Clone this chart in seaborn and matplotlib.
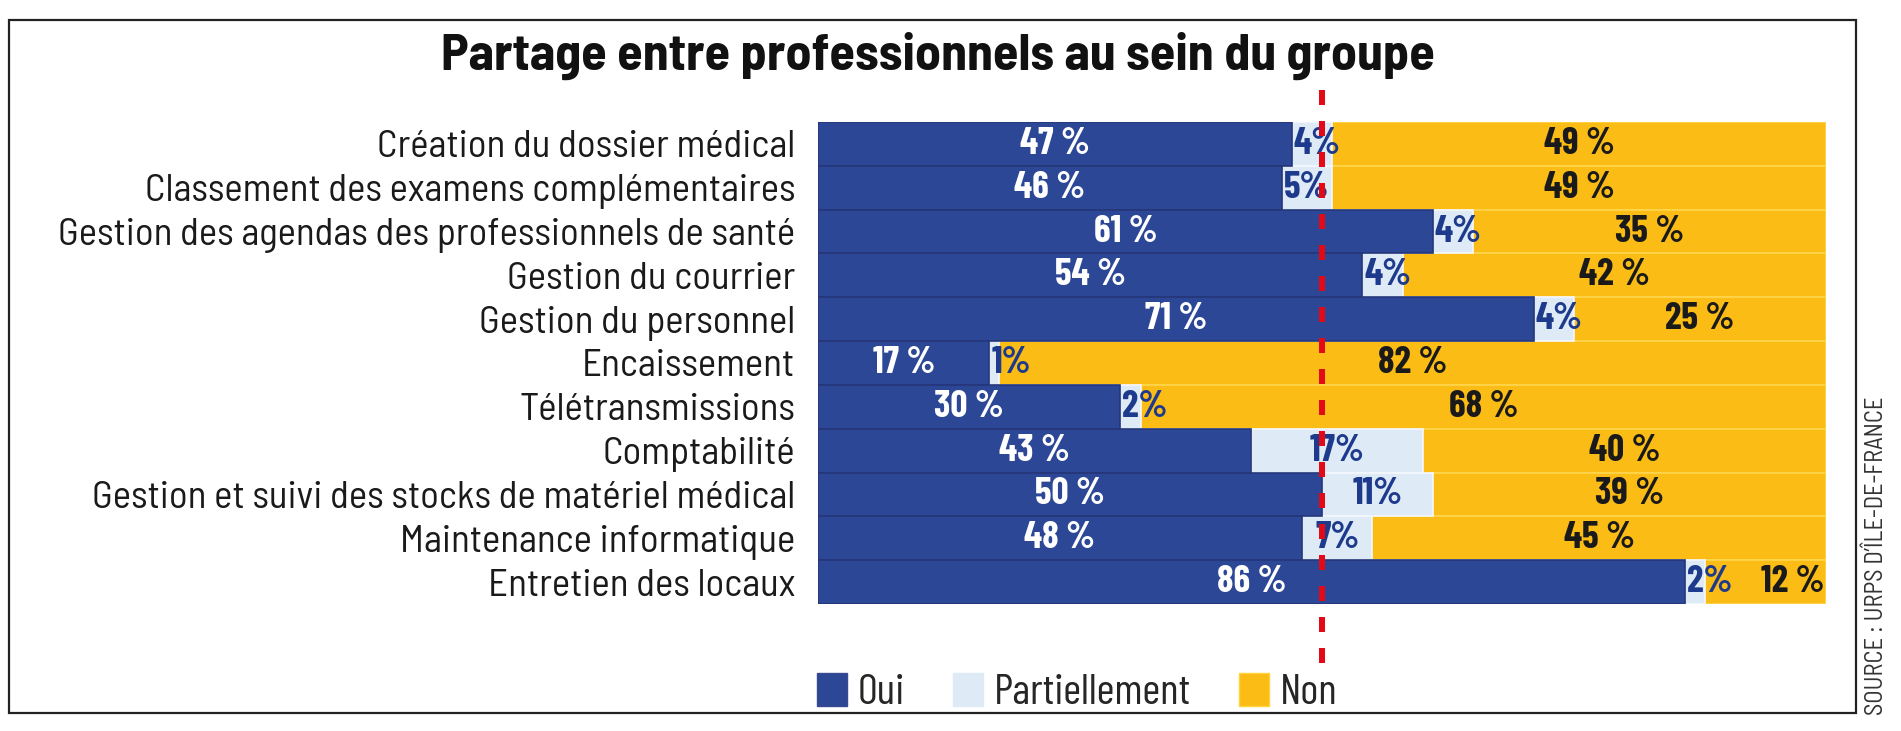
import matplotlib
matplotlib.use("Agg")
import matplotlib.pyplot as plt
from matplotlib.patches import Patch, Rectangle
import seaborn as sns
import pandas as pd

categories = [
    "Création du dossier médical",
    "Classement des examens complémentaires",
    "Gestion des agendas des professionnels de santé",
    "Gestion du courrier",
    "Gestion du personnel",
    "Encaissement",
    "Télétransmissions",
    "Comptabilité",
    "Gestion et suivi des stocks de matériel médical",
    "Maintenance informatique",
    "Entretien des locaux",
]
oui = [47, 46, 61, 54, 71, 17, 30, 43, 50, 48, 86]
partiellement = [4, 5, 4, 4, 4, 1, 2, 17, 11, 7, 2]
non = [49, 49, 35, 42, 25, 82, 68, 40, 39, 45, 12]
series_names = ["Oui", "Partiellement", "Non"]
title = "Partage entre professionnels au sein du groupe"
source = "SOURCE : URPS D’ÎLE-DE-FRANCE"
reference_line = 50

C_OUI = "#2c4796"
C_PART = "#deebf7"
C_NON = "#fbbc16"
C_RED = "#e30a17"

FONT = "Barlow Semi Condensed"
FONT_C = "Barlow Condensed"

sns.set_theme(style="white")
plt.rcParams["font.family"] = [FONT, "DejaVu Sans"]

W, H = 1901, 731
fig = plt.figure(figsize=(W / 100, H / 100), dpi=100)
fig.patch.set_facecolor("white")
renderer = fig.canvas.get_renderer()


def fit(text, target_px, **kw):
    t = fig.text(0, 0, text, fontsize=10, **kw)
    w = t.get_window_extent(renderer).width
    t.remove()
    return 10 * target_px / w


def px2x(px):
    return px / W


def px2y(py):
    return 1 - py / H


ax_left, ax_right, ax_top, ax_bottom = 818, 1826, 122, 604
ax = fig.add_axes([px2x(ax_left), px2y(ax_bottom), px2x(ax_right - ax_left), (ax_bottom - ax_top) / H])

df = pd.DataFrame({"cat": categories, "oui": oui, "part": partiellement, "non": non})
df["c2"] = df["oui"] + df["part"]
df["c3"] = df["c2"] + df["non"]

sns.barplot(data=df, x="c3", y="cat", order=categories, orient="h", color=C_NON,
            saturation=1, width=1.0, edgecolor="#ffd54d", linewidth=1.2, errorbar=None, ax=ax)
sns.barplot(data=df, x="c2", y="cat", order=categories, orient="h", color=C_PART,
            saturation=1, width=1.0, edgecolor="#f4f8fc", linewidth=1.2, errorbar=None, ax=ax)
sns.barplot(data=df, x="oui", y="cat", order=categories, orient="h", color=C_OUI,
            saturation=1, width=1.0, edgecolor="#25377a", linewidth=1.2, errorbar=None, ax=ax)

ax.set_xlim(0, 100)
ax.set_ylim(len(categories) - 0.5, -0.5)
ax.set_xlabel("")
ax.set_ylabel("")
ax.set_xticks([])
for s in ax.spines.values():
    s.set_visible(False)

lab_size = fit(max(categories, key=len), 740)
ax.tick_params(axis="y", length=0, pad=23 * 0.72, labelsize=lab_size, labelcolor="#1a1a1a")

pkw = dict(fontfamily=[FONT_C, "DejaVu Sans"], fontweight="bold")
pct_size = fit("47 %", 70, **pkw)
for i, (o, p, n) in enumerate(zip(oui, partiellement, non)):
    ax.text(o / 2, i, f"{o} %", ha="center", va="center", color="white",
            fontsize=pct_size, zorder=4, **pkw)
    if p >= 5:
        ax.text(o + p / 2, i, f"{p}%", ha="center", va="center", color="#1d3a8c",
                fontsize=pct_size, zorder=4, **pkw)
    else:
        ax.text(o + 0.2, i, f"{p}%", ha="left", va="center", color="#1d3a8c",
                fontsize=pct_size, zorder=4, **pkw)
    if n >= 15:
        ax.text(o + p + n / 2, i, f"{n} %", ha="center", va="center", color="#1a1a1a",
                fontsize=pct_size, zorder=4, **pkw)
    else:
        ax.text(o + p + n - 0.2, i, f"{n} %", ha="right", va="center", color="#1a1a1a",
                fontsize=pct_size, zorder=4, **pkw)

# reference dashed line
ax_h = ax_bottom - ax_top
lw_pt = 6 * 0.72
ax.axvline(reference_line, ymin=-(663 - ax_bottom) / ax_h, ymax=1 + (ax_top - 77) / ax_h,
           color=C_RED, lw=lw_pt, linestyle=(0, (15 * 0.72 / lw_pt, 16 * 0.72 / lw_pt)),
           clip_on=False, zorder=6)

# title
t_size = fit(title, 994, fontweight="bold")
fig.text(px2x(938), px2y(70), title, ha="center", va="baseline", fontsize=t_size,
         fontweight="bold", color="#111111")

# legend
lkw = dict(fontfamily=[FONT_C, "DejaVu Sans"], fontweight="normal")
leg_size = fit("Partiellement", 198, **lkw)
handles = [Patch(facecolor=C_OUI, edgecolor="#3a4a90"),
           Patch(facecolor=C_PART, edgecolor=C_PART),
           Patch(facecolor=C_NON, edgecolor="#ffd43a")]
fpx = leg_size / 0.72
fig.legend(handles, series_names, loc="center", bbox_to_anchor=(px2x(1077), px2y(693)),
           ncol=3, frameon=False, handlelength=30 / fpx, handleheight=34 / fpx,
           handletextpad=11 / fpx, columnspacing=48 / fpx, borderpad=0, borderaxespad=0,
           prop={"family": [FONT_C, "DejaVu Sans"], "weight": "normal", "size": leg_size})

# source
skw = dict(fontfamily=[FONT, "DejaVu Sans"])
s_size = fit(source, 318, **skw)
fig.text(px2x(1876), px2y(715), source, rotation=90, ha="center", va="bottom",
         fontsize=s_size, color="#333333", **skw)

# frame
fig.patches.append(Rectangle((px2x(8.5), px2y(712.7)), px2x(1856 - 8.5), (712.7 - 19.5) / H,
                             transform=fig.transFigure, fill=False, edgecolor="#222222",
                             lw=1.6, zorder=10))

fig.savefig("out.png", dpi=100)
